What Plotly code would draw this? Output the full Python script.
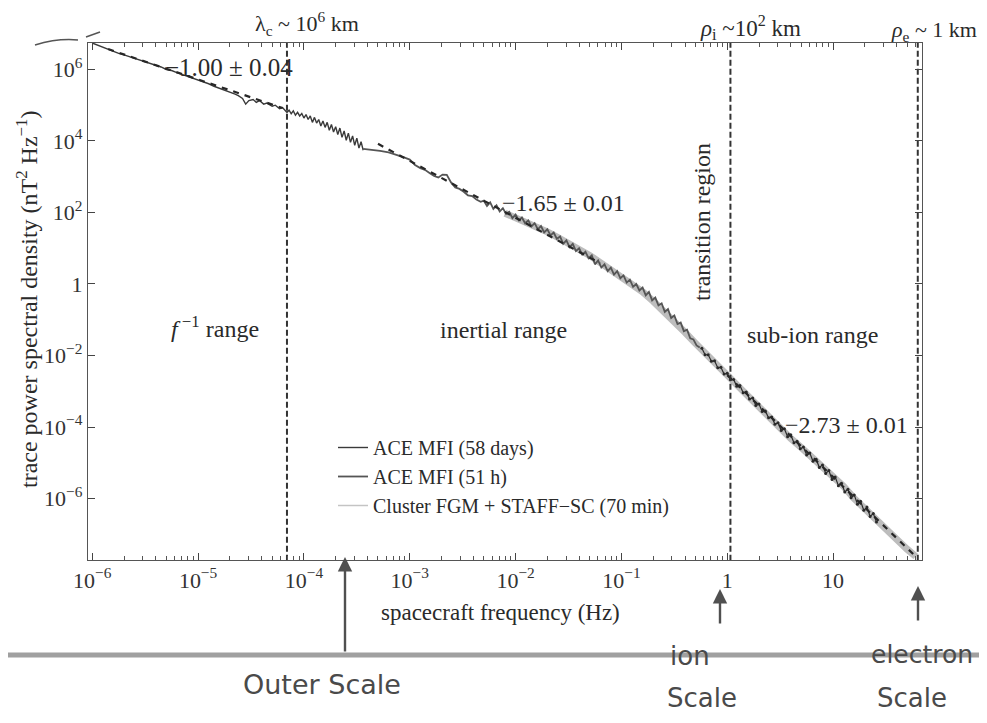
import plotly.graph_objects as go

# ---------------- data (log10 values) ----------------
# ACE MFI (58 days)
ace58_logf = [-6.00,-5.95,-5.90,-5.85,-5.80,-5.75,-5.70,-5.65,-5.60,-5.55,-5.50,-5.45,-5.40,-5.35,
              -5.30,-5.25,-5.20,-5.15,-5.10,-5.05,-5.00,-4.95,-4.90,-4.85,-4.80,-4.75,-4.70,-4.65,
              -4.62,-4.58,-4.55,-4.52,-4.48,-4.45,-4.42,-4.38,-4.35,-4.30,-4.27,-4.23,-4.20,
              -4.18,-4.16,-4.14,-4.12,-4.10,-4.08,-4.06,-4.04,-4.02,-4.00,-3.98,-3.96,-3.94,-3.92,
              -3.90,-3.88,-3.86,-3.84,-3.82,-3.80,-3.78,-3.76,-3.74,-3.72,-3.70,-3.68,-3.66,-3.64,
              -3.62,-3.60,-3.58,-3.56,-3.54,-3.52,-3.50,-3.48,-3.46,-3.44]
ace58_logp = [6.74,6.68,6.62,6.56,6.50,6.45,6.41,6.36,6.33,6.27,6.23,6.17,6.11,6.07,
              6.00,5.97,5.91,5.86,5.80,5.77,5.70,5.65,5.60,5.53,5.48,5.42,5.37,5.31,
              5.27,5.19,5.03,5.13,5.16,5.08,5.13,5.03,5.06,4.97,5.00,4.90,4.93,
              4.86,4.80,4.86,4.76,4.84,4.72,4.80,4.70,4.77,4.64,4.74,4.60,4.70,4.52,
              4.66,4.50,4.60,4.42,4.56,4.38,4.52,4.30,4.46,4.25,4.40,4.18,4.36,4.10,
              4.28,4.02,4.22,3.96,4.14,3.88,4.08,3.80,3.98,3.74]

# ACE MFI (51 h)
ace51_logf = [-3.44,-3.36,-3.28,-3.20,-3.12,-3.06,-3.00,-2.95,-2.90,-2.85,-2.81,-2.77,-2.73,-2.69,
              -2.65,-2.61,-2.57,-2.53,-2.49,-2.45,-2.41,-2.37,-2.33,
              -2.30,-2.27,-2.24,-2.21,-2.18,-2.15,-2.12,-2.09,-2.06,-2.03,-2.00,-1.97,-1.94,-1.91,
              -1.88,-1.85,-1.82,-1.79,-1.76,-1.73,-1.70,-1.67,-1.64,-1.61,-1.58,-1.55,-1.52,-1.49,
              -1.46,-1.43,-1.40,-1.37,-1.34,-1.31,-1.28,-1.25,-1.22,-1.19,-1.16,-1.13,-1.10,-1.07,
              -1.04,-1.01,-0.98,-0.95,-0.92,-0.89,-0.86,-0.83,-0.80,-0.77,-0.74,-0.71,-0.68,-0.65,
              -0.62,-0.59,-0.56,-0.53,-0.50,-0.47,-0.44,-0.41,-0.38,-0.35,-0.32,-0.29,-0.26]
ace51_logp = [3.78,3.76,3.72,3.68,3.61,3.55,3.48,3.33,3.24,3.18,3.10,3.02,2.98,3.06,
              3.05,2.84,2.70,2.66,2.58,2.48,2.46,2.36,2.30,
              2.33,2.18,2.28,2.10,2.20,2.03,2.12,1.96,2.02,1.84,1.94,1.78,1.86,1.70,
              1.78,1.61,1.70,1.53,1.62,1.44,1.53,1.36,1.44,1.26,1.33,1.12,1.22,1.03,
              1.12,0.92,1.00,0.82,0.90,0.72,0.80,0.55,0.66,0.46,0.55,0.36,0.46,0.26,
              0.36,0.16,0.24,0.04,0.12,-0.08,0.00,-0.18,-0.10,-0.32,-0.22,-0.46,-0.38,-0.60,
              -0.54,-0.78,-0.70,-0.95,-0.88,-1.12,-1.08,-1.32,-1.28,-1.52,-1.55,-1.72,-1.78]

# Cluster FGM + STAFF-SC (70 min): light band
cl_logf = [-2.10,-2.00,-1.90,-1.80,-1.70,-1.60,-1.50,-1.40,
           -1.30,-1.20,-1.10,-1.00,-0.90,-0.80,-0.70,-0.60,-0.50,-0.40,-0.30,-0.20,-0.10,0.00,
           0.10,0.20,0.30,0.40,0.50,0.60,0.70,0.80,0.90,1.00,1.10,1.20,1.30,1.40,1.50,1.60,1.70,1.78]
cl_logp = [1.98,1.86,1.72,1.60,1.46,1.30,1.14,0.98,
           0.80,0.60,0.40,0.20,0.00,-0.22,-0.48,-0.75,-1.02,-1.35,-1.66,-1.98,-2.27,-2.55,
           -2.85,-3.15,-3.47,-3.76,-4.04,-4.32,-4.58,-4.84,-5.10,-5.36,-5.66,-6.00,-6.30,-6.58,
           -6.86,-7.14,-7.42,-7.62]

# Cluster high-resolution points (dark scatter in the sub-ion range)
clpts_logf = [-0.24,-0.21,-0.18,-0.15,-0.12,-0.09,-0.06,-0.03,0.00,0.03,0.06,0.09,0.12,0.15,0.18,
              0.21,0.24,0.27,0.30,0.33,0.36,0.39,0.42,0.45,0.48,0.51,0.54,0.57,0.60,0.63,0.66,
              0.69,0.72,0.75,0.78,0.81,0.84,0.87,0.90,0.93,0.96,0.99,1.02,1.05,1.08,1.11,1.14,
              1.17,1.20,1.23,1.26,1.29,1.32,1.35,1.38,1.41]
clpts_logp = [-1.80,-1.98,-1.98,-2.16,-2.15,-2.34,-2.33,-2.52,-2.50,-2.68,-2.67,-2.86,-2.84,-3.04,
              -3.02,-3.22,-3.19,-3.40,-3.36,-3.57,-3.55,-3.74,-3.72,-3.92,-3.88,-4.10,-4.05,-4.27,
              -4.22,-4.44,-4.40,-4.61,-4.56,-4.78,-4.73,-4.96,-4.90,-5.13,-5.06,-5.30,-5.22,-5.47,
              -5.40,-5.64,-5.57,-5.82,-5.74,-5.98,-5.90,-6.16,-6.08,-6.33,-6.24,-6.50,-6.42,-6.66]

# fitted power laws (end points, log10)
fit1_logf, fit1_logp = [-5.85, -4.20], [6.57, 4.92]
fit2_logf, fit2_logp = [-3.30, -1.20], [3.92, 0.58]
fit3_logf, fit3_logp = [0.00, 1.78], [-2.55, -7.62]

# characteristic scales (Hz)
scale_freqs = [10**-4.16, 10**0.03, 10**1.80]

# ticks
xtick_vals = [1e-6, 1e-5, 1e-4, 1e-3, 1e-2, 1e-1, 1, 10]
xtick_text = ["10<sup>−6</sup>", "10<sup>−5</sup>", "10<sup>−4</sup>", "10<sup>−3</sup>",
              "10<sup>−2</sup>", "10<sup>−1</sup>", "1", "10"]
ytick_vals = [1e-6, 1e-4, 1e-2, 1, 1e2, 1e4, 1e6]
ytick_text = ["10<sup>−6</sup>", "10<sup>−4</sup>", "10<sup>−2</sup>", "1",
              "10<sup>2</sup>", "10<sup>4</sup>", "10<sup>6</sup>"]

# ---------------- figure ----------------
SERIF = "Liberation Serif"
OFF = 8                      # page body margin of the html output
W, H = 987 - 2 * OFF, 723 - 2 * OFF
ML, MT = 88 - OFF, 43 - OFF  # plot area in screen pixels: x 88..922, y 43..560
MR = W - (922 - OFF)
MB = H - (560 - OFF)
PW, PH = W - ML - MR, H - MT - MB


def px(x):
    return (x - OFF - ML) / PW


def py(y):
    return (H - MB - (y - OFF)) / PH


def pw(v):
    return [10 ** a for a in v]


fig = go.Figure()

fig.add_trace(go.Scatter(x=pw(cl_logf), y=pw(cl_logp), mode="lines",
                         line=dict(color="#bdbdbd", width=7), name="Cluster FGM + STAFF−SC (70 min)",
                         legendgroup="cl", showlegend=False))
fig.add_trace(go.Scatter(x=pw(ace58_logf), y=pw(ace58_logp), mode="lines",
                         line=dict(color="#3a3a3a", width=1.4), name="ACE MFI (58 days)"))
fig.add_trace(go.Scatter(x=pw(ace51_logf), y=pw(ace51_logp), mode="lines",
                         line=dict(color="#555555", width=1.8), name="ACE MFI (51 h)"))
fig.add_trace(go.Scatter(x=pw(clpts_logf), y=pw(clpts_logp), mode="lines+markers",
                         line=dict(color="#2a2a2a", width=1.2), marker=dict(size=3, color="#2a2a2a"),
                         name="Cluster points", legendgroup="cl", showlegend=False))
# legend entry for Cluster (thin light line)
fig.add_trace(go.Scatter(x=[None], y=[None], mode="lines", line=dict(color="#c4c4c4", width=1.5),
                         name="Cluster FGM + STAFF−SC (70 min)", legendgroup="cl"))

for fx, fy in [(fit1_logf, fit1_logp), (fit2_logf, fit2_logp), (fit3_logf, fit3_logp)]:
    fig.add_trace(go.Scatter(x=pw(fx), y=pw(fy), mode="lines",
                             line=dict(color="#262626", width=2.2, dash="6px,6px"),
                             showlegend=False, hoverinfo="skip"))

for f in scale_freqs:
    fig.add_trace(go.Scatter(x=[f, f], y=[1e-9, 1e9], mode="lines",
                             line=dict(color="#333333", width=2, dash="6px,3px"),
                             showlegend=False, hoverinfo="skip"))

axis_common = dict(type="log", showgrid=False, zeroline=False, showline=True, linecolor="#555",
                   linewidth=1.3, ticks="inside", ticklen=7, tickwidth=1, tickcolor="#444",
                   mirror="allticks", tickfont=dict(family=SERIF, size=22, color="#333"))
fig.update_xaxes(range=[-6.04, 1.84], tickvals=xtick_vals, ticktext=xtick_text,
                 minor=dict(ticks="inside", ticklen=4, tickcolor="#555", dtick="D1", showgrid=False),
                 **axis_common)
fig.update_yaxes(range=[-7.72, 6.74], tickvals=ytick_vals, ticktext=ytick_text, **axis_common)

ann = []


def txt(t, x, y, size=24, angle=0, color="#2a2a2a", family=SERIF, anchor="center"):
    ann.append(dict(text=t, x=px(x), y=py(y), xref="paper", yref="paper", showarrow=False,
                    xanchor=anchor, yanchor="middle", textangle=angle,
                    font=dict(family=family, size=size, color=color)))


txt("λ<sub>c</sub> ~ 10<sup>6</sup> km", 307, 24, 22)
txt("<i>ρ</i><sub>i</sub> ~10<sup>2</sup> km", 750, 28, 23)
txt("<i>ρ</i><sub>e</sub> ~ 1 km", 979, 31, 22, anchor="right")
txt("−1.00 ± 0.04", 229, 68, 25)
txt("−1.65 ± 0.01", 563, 203, 24)
txt("<i>f</i><sup> −1</sup> range", 215, 327, 24)
txt("inertial range", 503, 330, 24)
txt("transition region", 702, 222, 24, angle=-90)
txt("sub-ion range", 812, 335, 24)
txt("−2.73 ± 0.01", 846, 425, 24)
txt("trace power spectral density (nT<sup>2</sup> Hz<sup>−1</sup>)", 27, 300, 24, angle=-90)
txt("spacecraft frequency (Hz)", 500, 612, 23)

# handwritten notes
HW = "DejaVu Sans"
HC = "#4a4a4a"
txt("Outer Scale", 322, 684, 27, color=HC, family=HW)
txt("ion", 690, 656, 26, color=HC, family=HW)
txt("Scale", 702, 698, 26, color=HC, family=HW)
txt("electron", 922, 654, 25, color=HC, family=HW)
txt("Scale", 912, 698, 26, color=HC, family=HW)

for hx, hy, ay in [(345, 557, 96), (720, 589, 36), (918, 586, 36)]:
    ann.append(dict(text="", x=px(hx), y=py(hy), xref="paper", yref="paper", showarrow=True,
                    ax=0, ay=ay, arrowhead=2, arrowsize=1.2, arrowwidth=2.4, arrowcolor="#505050"))

fig.update_layout(
    width=W, height=H, margin=dict(l=ML, r=MR, t=MT, b=MB),
    paper_bgcolor="white", plot_bgcolor="white",
    annotations=ann,
    legend=dict(x=px(333), y=py(428), xanchor="left", yanchor="top", bgcolor="rgba(0,0,0,0)",
                font=dict(family=SERIF, size=20, color="#2a2a2a"), itemwidth=30,
                tracegroupgap=0, traceorder="normal"),
    shapes=[
        dict(type="line", xref="paper", yref="paper", x0=px(OFF), x1=px(987), y0=py(655), y1=py(655),
             line=dict(color="#a0a0a0", width=5), layer="below"),
        dict(type="path", xref="paper", yref="paper",
             path=f"M {px(35)},{py(45)} Q {px(58)},{py(38)} {px(78)},{py(40)}",
             line=dict(color="#555", width=1.5)),
        dict(type="path", xref="paper", yref="paper",
             path=f"M {px(86)},{py(37)} L {px(100)},{py(32)}",
             line=dict(color="#555", width=1.5)),
    ],
)

fig.write_html("out.html")
